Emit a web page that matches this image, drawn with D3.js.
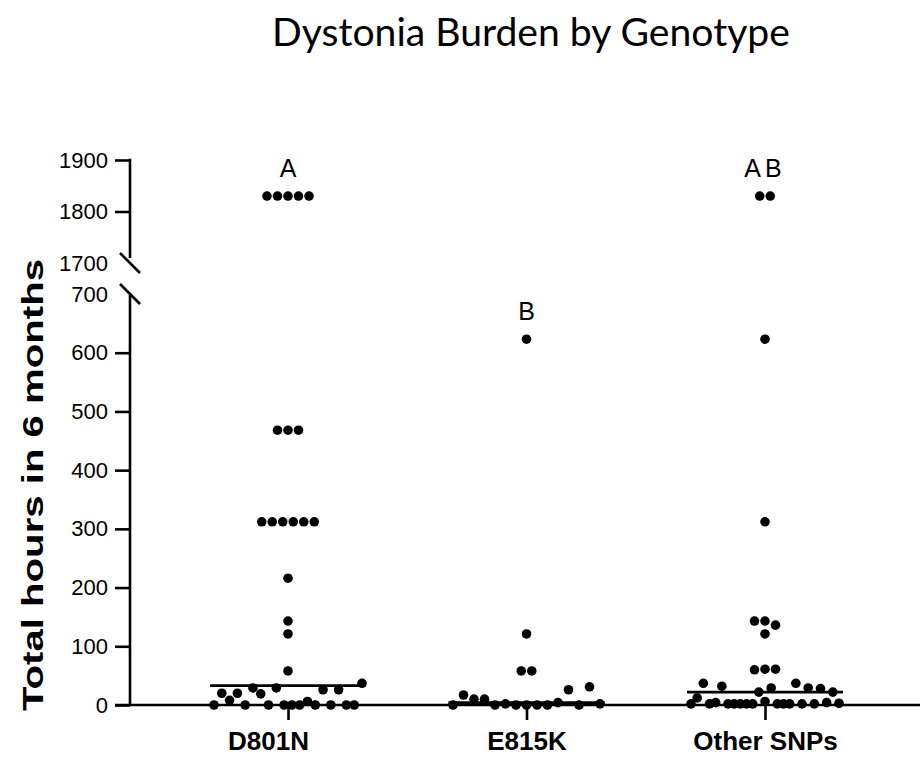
<!DOCTYPE html>
<html>
<head>
<meta charset="utf-8">
<script src="https://cdn.jsdelivr.net/npm/d3@7"></script>
<style>
  body { margin: 0; background: #ffffff; }
  svg { display: block; }
</style>
</head>
<body>
<script>
// Groups and their values (hours of dystonia over 6 months), listed in the
// left-to-right order they sit within each row of the scatter.
const categories = ["D801N", "E815K", "Other SNPs"];

const d801n = [
  1830, 1830, 1830, 1830, 1830,
  468, 468, 468,
  312, 312, 312, 312, 312, 312,
  216, 143, 121, 58,
  0, 20, 8, 20, 0, 29, 19, 0, 29, 0, 0, 0, 6, 0, 26, 0, 26, 0, 0, 37
];

const e815k = [
  623, 121, 58, 58,
  0, 17, 10, 10, 0, 2, 0, 0, 0, 0, 4, 26, 0, 31, 2
];

const otherSnps = [
  1830, 1830,
  623, 312,
  143, 143, 136, 121,
  60, 61, 61,
  2, 12, 37, 2, 4, 32, 2, 2, 2, 2, 2, 22, 6, 29, 2, 2, 2, 37, 2, 29, 2, 28, 4, 22, 3
];

const groupValues = [d801n, e815k, otherSnps];
const groupLetters = ["A", "B", "AB"];

const lowerTicks = [0, 100, 200, 300, 400, 500, 600, 700];
const upperTicks = [1700, 1800, 1900];

const W = 922, H = 758;
const svg = d3.select("body").append("svg").attr("width", W).attr("height", H);

// Broken y axis: two linear segments.
const yLow = d3.scaleLinear().domain([0, 700]).range([705, 294]);
const yHigh = d3.scaleLinear().domain([1700, 1900]).range([263, 160]);
const yPos = v => (v >= 1700 ? yHigh(v) : yLow(v));

const x = d3.scalePoint().domain(categories).range([288, 765]);

const axisX = 130;
const baseY = yLow(0);
const black = "#000";

// Title, sized to its measured width
const title = svg.append("text")
  .attr("x", 531).attr("y", 46)
  .attr("text-anchor", "middle")
  .style("font-family", "Lato, 'Open Sans', sans-serif")
  .style("font-size", "100px")
  .attr("fill", black)
  .text("Dystonia Burden by Genotype");
{
  const len = title.node().getComputedTextLength();
  title.style("font-size", (100 * 518 / len) + "px");
}

// Y axis segments
const upperAxis = d3.axisLeft(yHigh).tickValues(upperTicks).tickSize(15).tickPadding(7).tickFormat(d3.format("d"));
const lowerAxis = d3.axisLeft(yLow).tickValues(lowerTicks).tickSize(15).tickPadding(7).tickFormat(d3.format("d"));

function styleAxis(g, hiddenTick) {
  g.select(".domain").remove();
  g.selectAll(".tick line").attr("stroke", black).attr("stroke-width", 2.6)
    .filter(d => d === hiddenTick).remove();
  g.selectAll(".tick text")
    .style("font-family", "'Liberation Sans', Arial, sans-serif")
    .style("font-size", "22px")
    .attr("fill", black);
}

svg.append("g").attr("transform", `translate(${axisX},0)`).call(upperAxis).call(g => styleAxis(g, 1700));
svg.append("g").attr("transform", `translate(${axisX},0)`).call(lowerAxis).call(g => styleAxis(g, 700));

// Axis spines
svg.append("line")
  .attr("x1", axisX).attr("x2", axisX)
  .attr("y1", yHigh(1900) - 1.3).attr("y2", yHigh(1700) - 5)
  .attr("stroke", black).attr("stroke-width", 2.6);
svg.append("line")
  .attr("x1", axisX).attr("x2", axisX)
  .attr("y1", yLow(700) + 1).attr("y2", baseY)
  .attr("stroke", black).attr("stroke-width", 2.6);

// Break marks
[yHigh(1700), yLow(700)].forEach(cy => {
  svg.append("line")
    .attr("x1", axisX - 10).attr("y1", cy - 10)
    .attr("x2", axisX + 10).attr("y2", cy + 10)
    .attr("stroke", black).attr("stroke-width", 2.6);
});

// X axis line and category ticks
svg.append("line")
  .attr("x1", axisX - 15).attr("x2", 920)
  .attr("y1", baseY).attr("y2", baseY)
  .attr("stroke", black).attr("stroke-width", 2.6);

const xAxis = d3.axisBottom(x).tickSize(15).tickPadding(12);
const xg = svg.append("g").attr("transform", `translate(0,${baseY})`).call(xAxis);
xg.select(".domain").remove();
xg.selectAll(".tick line").attr("stroke", black).attr("stroke-width", 2.6);
xg.selectAll(".tick text")
  .style("font-family", "'Liberation Sans', Arial, sans-serif")
  .style("font-size", "26px")
  .style("font-weight", "bold")
  .attr("fill", black)
  .attr("dx", d => (d === "D801N" ? -20 : 0));

// Y axis title
svg.append("text")
  .attr("transform", `translate(43,485) rotate(-90)`)
  .attr("text-anchor", "middle")
  .attr("textLength", 452)
  .attr("lengthAdjust", "spacingAndGlyphs")
  .style("font-family", "'Liberation Sans', Arial, sans-serif")
  .style("font-size", "29px")
  .style("font-weight", "bold")
  .attr("fill", black)
  .text("Total hours in 6 months");

// Column scatter layout: points are binned by vertical position and each bin is
// spread side by side around the category centre, in listed order.
const binH = 24, maxSpread = 148, dotStep = 10.5, r = 4.8;
function columnScatter(values, cx) {
  const items = values.map(v => ({ v, y: yPos(v) }));
  const bins = d3.group(items, d => Math.floor((baseY - d.y) / binH));
  for (const bin of bins.values()) {
    const n = bin.length;
    const step = n > 1 ? Math.min(dotStep, maxSpread / (n - 1)) : 0;
    bin.forEach((d, k) => { d.x = cx + (k - (n - 1) / 2) * step; });
  }
  return items;
}

categories.forEach((cat, gi) => {
  const vals = groupValues[gi];
  const cx = x(cat);
  const pts = columnScatter(vals, cx);

  // Median line
  const med = d3.median(vals);
  svg.append("line")
    .attr("x1", cx - 78).attr("x2", cx + 78)
    .attr("y1", yPos(med)).attr("y2", yPos(med))
    .attr("stroke", black).attr("stroke-width", 2.6);

  svg.append("g").selectAll("circle")
    .data(pts)
    .join("circle")
    .attr("cx", d => d.x)
    .attr("cy", d => d.y)
    .attr("r", r)
    .attr("fill", black);

  // Significance letter above the highest point
  svg.append("text")
    .attr("x", cx).attr("y", yPos(d3.max(vals)) - 19)
    .attr("text-anchor", "middle")
    .style("font-family", "'Liberation Sans', Arial, sans-serif")
    .style("font-size", "25px")
    .style("letter-spacing", groupLetters[gi].length > 1 ? "4px" : "0px")
    .attr("fill", black)
    .text(groupLetters[gi]);
});
</script>
</body>
</html>
